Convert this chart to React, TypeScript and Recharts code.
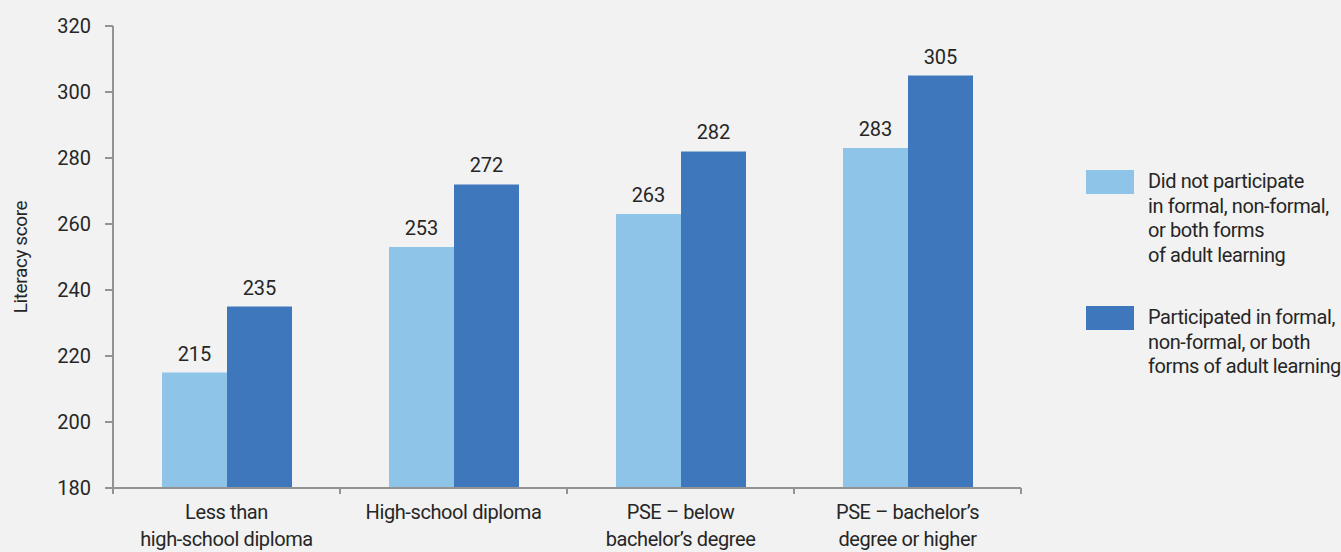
import React from 'react';
import { BarChart, Bar, XAxis, YAxis, LabelList } from 'recharts';

// Literacy score by education level and participation in adult learning
const categories = ['Less than high-school diploma', 'High-school diploma', 'PSE – below bachelor’s degree', 'PSE – bachelor’s degree or higher'];
const categoryLines = [
  ['Less than', 'high-school diploma'],
  ['High-school diploma'],
  ['PSE – below', 'bachelor’s degree'],
  ['PSE – bachelor’s', 'degree or higher'],
];
const notParticipated = [215, 253, 263, 283];
const participated = [235, 272, 282, 305];
const yTicks = [180, 200, 220, 240, 260, 280, 300, 320];

const legendNotLines = ['Did not participate', 'in formal, non-formal,', 'or both forms', 'of adult learning'];
const legendYesLines = ['Participated in formal,', 'non-formal, or both', 'forms of adult learning'];

const W = 1341;
const H = 552;
const LEFT = 113;
const RIGHT = 320;
const TOP = 26;
const X_AXIS_H = 64;
const BAND = (W - LEFT - RIGHT) / categories.length;

const FONT = "Roboto, 'Liberation Sans', sans-serif";
const TEXT = '#262626';
const AXIS = '#939393';
const LIGHT = '#8dc4e8';
const DARK = '#3f77bc';

const data = categories.map((c, i) => ({
  category: c,
  notParticipated: notParticipated[i],
  participated: participated[i],
}));

const CategoryTick = (props: any) => {
  const { x, y, payload, index } = props;
  const lines = categoryLines[index] ?? [payload.value];
  const isLast = index === categories.length - 1;
  return (
    <g>
      <line x1={x - BAND / 2} x2={x - BAND / 2} y1={y} y2={y + 6} stroke={AXIS} strokeWidth={2} />
      {isLast && <line x1={x + BAND / 2} x2={x + BAND / 2} y1={y} y2={y + 6} stroke={AXIS} strokeWidth={2} />}
      <text textAnchor="middle" fill={TEXT} fontSize={20} fontFamily={FONT} letterSpacing={-0.4}>
        {lines.map((l, i) => (
          <tspan key={i} x={x} y={y + 31 + i * 27}>{l}</tspan>
        ))}
      </text>
    </g>
  );
};

const YLabel = (props: any) => {
  const { viewBox } = props;
  const cx = 20;
  const cy = viewBox.y + viewBox.height / 2;
  return (
    <text
      x={cx}
      y={cy}
      transform={`rotate(-90 ${cx} ${cy})`}
      textAnchor="middle"
      dominantBaseline="central"
      fill={TEXT}
      fontSize={19}
      fontFamily={FONT}
      letterSpacing={-0.4}
    >
      Literacy score
    </text>
  );
};

const LegendItem = ({ color, lines, top }: { color: string; lines: string[]; top: number }) => (
  <div style={{ position: 'absolute', left: 1086, top, display: 'flex' }}>
    <div style={{ width: 48, height: 24, background: color, flexShrink: 0 }} />
    <div style={{ marginLeft: 14, marginTop: -1, fontSize: 20, lineHeight: '24.5px', letterSpacing: -0.4, color: TEXT, whiteSpace: 'nowrap' }}>
      {lines.map((l, i) => (
        <div key={i}>{l}</div>
      ))}
    </div>
  </div>
);

export default function App() {
  return (
    <div style={{ position: 'relative', width: W, height: H, background: '#f2f2f2', fontFamily: FONT, overflow: 'hidden' }}>
      <style>{'body{margin:0}'}</style>
      <BarChart
        width={W}
        height={H}
        data={data}
        margin={{ top: TOP, right: RIGHT, left: 0, bottom: 0 }}
        barGap={0}
      >
        <XAxis
          dataKey="category"
          height={X_AXIS_H}
          axisLine={{ stroke: AXIS, strokeWidth: 2 }}
          tickLine={false}
          tickSize={0}
          tickMargin={0}
          interval={0}
          tick={<CategoryTick />}
        />
        <YAxis
          width={LEFT}
          domain={[180, 320]}
          ticks={yTicks}
          interval={0}
          axisLine={{ stroke: AXIS, strokeWidth: 2 }}
          tickLine={{ stroke: AXIS, strokeWidth: 2 }}
          tickSize={8}
          tickMargin={14}
          tick={{ fill: TEXT, fontSize: 20, fontFamily: FONT }}
          label={<YLabel />}
        />
        <Bar dataKey="notParticipated" name="Did not participate" fill={LIGHT} barSize={65} isAnimationActive={false}>
          <LabelList dataKey="notParticipated" position="top" offset={12} fill={TEXT} fontSize={20} fontFamily={FONT} />
        </Bar>
        <Bar dataKey="participated" name="Participated" fill={DARK} barSize={65} isAnimationActive={false}>
          <LabelList dataKey="participated" position="top" offset={12} fill={TEXT} fontSize={20} fontFamily={FONT} />
        </Bar>
      </BarChart>
      <LegendItem color={LIGHT} lines={legendNotLines} top={170} />
      <LegendItem color={DARK} lines={legendYesLines} top={306} />
    </div>
  );
}
